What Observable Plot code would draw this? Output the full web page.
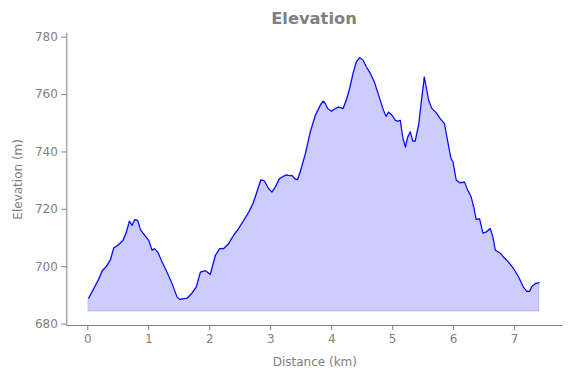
<!DOCTYPE html>
<html>
<head>
<meta charset="utf-8">
<script src="https://cdn.jsdelivr.net/npm/d3@7"></script>
<script src="https://cdn.jsdelivr.net/npm/@observablehq/plot@0.6"></script>
<style>
  html, body { margin: 0; padding: 0; background: #fff; }
  #wrap { position: relative; width: 571px; height: 378px; font-family: "DejaVu Sans", sans-serif; }
  #title { position: absolute; z-index: 2; top: 9px; left: 214px; width: 200px; text-align: center; font-weight: bold; font-size: 16.3px; line-height: 20px; color: #808080; }
</style>
</head>
<body>
<div id="wrap"><div id="title">Elevation</div></div>
<script>
const distanceKm = [0.016,0.098,0.18,0.236,0.307,0.372,0.426,0.492,0.58,0.634,0.684,0.727,0.771,0.82,0.864,0.946,1.0,1.055,1.093,1.148,1.22,1.30,1.383,1.465,1.508,1.63,1.71,1.78,1.848,1.93,2.01,2.093,2.164,2.23,2.31,2.39,2.475,2.557,2.64,2.71,2.766,2.84,2.897,2.967,3.02,3.077,3.143,3.213,3.257,3.31,3.35,3.393,3.44,3.487,3.57,3.65,3.733,3.815,3.86,3.897,3.935,3.995,4.06,4.115,4.187,4.24,4.295,4.35,4.405,4.459,4.515,4.57,4.636,4.70,4.77,4.84,4.89,4.935,4.99,5.045,5.08,5.125,5.17,5.21,5.245,5.29,5.33,5.37,5.43,5.467,5.52,5.55,5.59,5.645,5.717,5.78,5.85,5.89,5.957,5.99,6.044,6.11,6.18,6.22,6.285,6.33,6.37,6.426,6.48,6.536,6.60,6.645,6.684,6.766,6.82,6.90,6.984,7.066,7.15,7.20,7.246,7.285,7.34,7.405];
const elevationM = [689.0,692.3,695.6,698.5,700.1,702.4,706.5,707.4,709.2,712.1,715.9,714.4,716.4,716.1,712.9,710.6,709.2,705.7,706.3,705.1,701.6,698.1,694.1,689.4,688.6,689.0,690.8,692.9,698.1,698.6,697.3,703.9,706.3,706.3,708.0,710.9,713.3,716.1,719.0,722.0,725.5,730.3,729.9,727.2,726.0,727.8,730.7,731.5,732.0,731.7,731.8,730.7,730.3,733.2,739.4,747.0,752.8,756.3,757.7,756.9,755.1,754.2,755.1,755.7,755.1,758.0,762.1,767.3,771.4,772.9,772.0,769.6,767.3,764.4,759.8,755.1,752.4,753.9,752.8,751.0,750.7,751.0,744.7,741.7,745.0,747.0,743.8,743.8,749.9,756.9,766.1,762.7,758.0,755.1,753.6,751.6,749.9,745.2,737.7,736.5,730.1,729.2,729.5,727.2,724.5,720.8,716.4,716.7,711.7,712.1,713.3,710.3,705.7,704.7,703.3,701.6,699.3,696.4,692.7,691.4,691.4,693.1,694.1,694.4];
const baseline = 684.4;
const xTicks = [0,1,2,3,4,5,6,7];
const yTicks = [680,700,720,740,760,780];
const xDomain = [-0.344, 7.79];
const yDomain = [679.5, 781.4];

const data = distanceKm.map((d, i) => ({d, e: elevationM[i]}));
const gray = "#808080";

const chart = Plot.plot({
  width: 571,
  height: 378,
  marginTop: 32.7,
  marginBottom: 53,
  marginLeft: 66.3,
  marginRight: 8.7,
  style: {fontFamily: "DejaVu Sans, sans-serif", fontSize: "12px", color: gray, background: "transparent"},
  x: {domain: xDomain},
  y: {domain: yDomain},
  marks: [
    Plot.areaY(data, {x: "d", y1: baseline, y2: "e", fill: "#ccccff", stroke: "#0000ff", strokeOpacity: 0.2, strokeWidth: 1}),
    Plot.line(data, {x: "d", y: "e", stroke: "#0000ff", strokeWidth: 1.15}),
    Plot.ruleX([xDomain[0]], {stroke: gray, strokeWidth: 1}),
    Plot.ruleY([yDomain[0]], {stroke: gray, strokeWidth: 1}),
    Plot.axisX(xTicks, {ticks: xTicks, tickSize: 5, tickPadding: 4, stroke: gray, fill: gray, fontSize: 12, label: "Distance (km)", labelAnchor: "center", labelArrow: "none", labelOffset: 40}),
    Plot.axisY(yTicks, {ticks: yTicks, tickSize: 5, tickPadding: 4, stroke: gray, fill: gray, fontSize: 12, label: "Elevation (m)", labelAnchor: "center", labelArrow: "none", labelOffset: 53})
  ]
});
document.getElementById("wrap").appendChild(chart);
chart.style.position = "absolute";
chart.style.left = "0";
chart.style.top = "0";
</script>
</body>
</html>
